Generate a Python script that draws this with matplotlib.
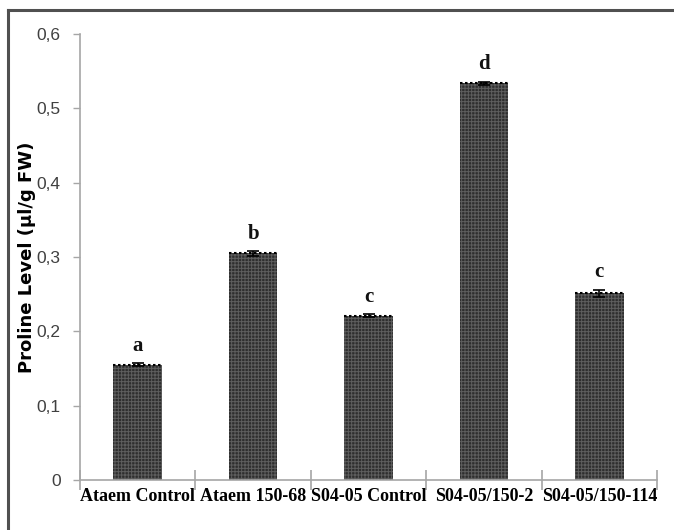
import matplotlib
matplotlib.use("Agg")
import matplotlib.pyplot as plt
from matplotlib.lines import Line2D
from matplotlib.ticker import FixedLocator, FuncFormatter
import numpy as np

# proline content per line / treatment
genotypes = ["Ataem Control", "Ataem 150-68", "S04-05 Control", "S04-05/150-2", "S04-05/150-114"]
proline = [0.155, 0.305, 0.221, 0.534, 0.251]
proline_err = [0.002, 0.003, 0.002, 0.002, 0.005]
groups = ["a", "b", "c", "d", "c"]
y_ticks = [0, 0.1, 0.2, 0.3, 0.4, 0.5, 0.6]

plt.rcParams["hatch.color"] = "#5e5e5e"
plt.rcParams["hatch.linewidth"] = 0.7

fig = plt.figure(figsize=(6.74, 5.30), dpi=100)
ax = fig.add_axes([0.1187, 0.0943, 0.8561, 0.8415])

x = np.arange(len(genotypes))
ax.bar(x, proline, width=0.42, color="#2e2e2e", edgecolor="#5e5e5e", hatch="+++++",
       linewidth=0, zorder=2)
# dotted cap line along the top of each bar
ax.hlines(proline, x - 0.21, x + 0.21, colors="black", linestyles=(0, (1.2, 1.2)),
          linewidth=1.5, zorder=3)
ax.errorbar(x, proline, yerr=proline_err, fmt="none", ecolor="black", elinewidth=1.2,
            capsize=4, capthick=1.2, zorder=4)

for xi, val, err, g in zip(x, proline, proline_err, groups):
    ax.text(xi, val + err + 0.01, g, ha="center", va="bottom", fontsize=15,
            fontweight="bold", family="Liberation Serif", color="#111111")

ax.set_xlim(-0.5, len(genotypes) - 0.5)
ax.set_ylim(0, 0.6)

# category labels centred, ticks on the boundaries between categories
ax.xaxis.set_major_locator(FixedLocator(np.arange(-0.5, len(genotypes), 1.0)))
ax.xaxis.set_minor_locator(FixedLocator(x))
ax.set_xticklabels([])
ax.set_xticklabels(genotypes, minor=True, fontsize=13, fontweight="bold",
                   family="Liberation Serif", color="black")
ax.tick_params(axis="x", which="major", direction="inout", length=14, width=1.2,
               color="#a6a6a6")
ax.tick_params(axis="x", which="minor", length=0, pad=6)

ax.set_yticks(y_ticks)
ax.yaxis.set_major_formatter(FuncFormatter(lambda v, p: "0" if v == 0 else f"{v:.1f}".replace(".", ",")))
ax.tick_params(axis="y", direction="out", length=5, width=1.0, color="#a6a6a6",
               labelsize=12.5, labelcolor="#404040", pad=9)
for lab in ax.get_yticklabels():
    lab.set_family("Liberation Sans")

ax.set_ylabel("Proline Level (µl/g FW)", fontsize=13, fontweight="bold",
              family="DejaVu Sans", labelpad=0)

for side in ("top", "right"):
    ax.spines[side].set_visible(False)
for side in ("left", "bottom"):
    ax.spines[side].set_color("#a6a6a6")
    ax.spines[side].set_linewidth(1.2)

# frame around the chart area (top and left edges)
fig.add_artist(Line2D([0.012, 1.0], [0.981, 0.981], transform=fig.transFigure,
                      color="#505050", linewidth=2.2))
fig.add_artist(Line2D([0.012, 0.012], [0.0, 0.981], transform=fig.transFigure,
                      color="#505050", linewidth=2.2))

fig.savefig("out.png", dpi=100)
